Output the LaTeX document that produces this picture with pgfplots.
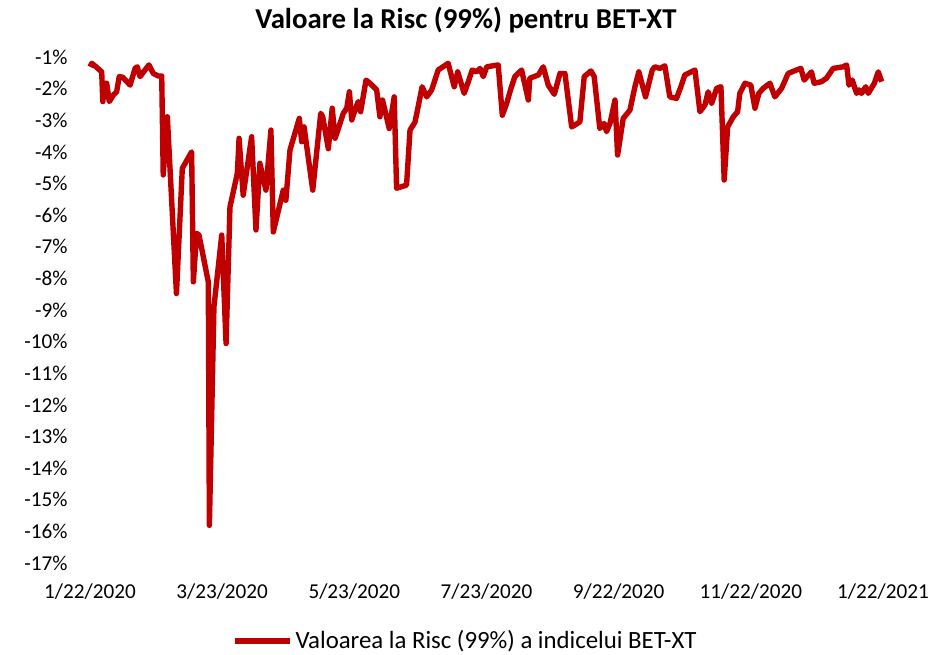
\documentclass[border=0pt]{standalone}
\usepackage{fontspec}
\setmainfont{Carlito}
\usepackage{pgfplots}
\pgfplotsset{compat=1.18}
\definecolor{varred}{HTML}{C00000}

% VaR (99%) of BET-XT, x = days since 1/22/2020, y = percent
\begin{document}
\begin{tikzpicture}[font=\fontsize{10.6}{12.7}\selectfont]
\begin{axis}[
  name=ax,
  scale only axis,
  width=396.5pt, height=253pt,
  xmin=0, xmax=366, ymin=-17, ymax=-1,
  clip=false,
  axis line style={draw=none},
  tick style={draw=none},
  xtick={0,61,122,183,244,305,366},
  xticklabels={1/22/2020,3/23/2020,5/23/2020,7/23/2020,9/22/2020,11/22/2020,1/22/2021},
  ytick={-17,-16,...,-1},
  yticklabels={-17\%,-16\%,-15\%,-14\%,-13\%,-12\%,-11\%,-10\%,-9\%,-8\%,-7\%,-6\%,-5\%,-4\%,-3\%,-2\%,-1\%},
  yticklabel style={anchor=east, inner sep=0pt, xshift=-11pt},
  xticklabel style={anchor=north, inner sep=0pt, yshift=-10pt},
  title={Valoare la Risc (99\%) pentru BET-XT},
  every axis title shift=0pt,
  title style={at={(0.474,1.073)}, anchor=center, inner sep=0pt,
    font=\fontsize{14.4}{17}\selectfont\bfseries},
  legend style={at={(0.474,-0.154)}, anchor=center, draw=none, fill=none,
    inner sep=0pt, nodes={inner sep=1.5pt},
    font=\fontsize{12.4}{14.5}\selectfont},
  legend image code/.code={\draw[#1] (0pt,0pt) -- (27.5pt,0pt);},
]
\addplot[varred, line width=2.7pt, line join=round, mark=none] coordinates {
(0,-1.31) (0.8,-1.20) (2.8,-1.31) (5.4,-1.47) (5.9,-2.41) (6.9,-1.83) (7.7,-1.83)
(8.9,-2.41) (10.8,-2.20) (12.3,-2.10) (13.5,-1.62) (15.1,-1.64) (18.5,-1.89)
(20.8,-1.36) (21.8,-1.31) (23.1,-1.62) (25.4,-1.41) (27.2,-1.25) (29.2,-1.52)
(31.5,-1.60) (33.1,-1.60) (33.8,-4.73) (35.7,-2.89) (39.9,-8.48) (42.6,-4.52)
(46.9,-4.00) (47.7,-8.11) (49.2,-6.58) (50.3,-6.63) (54.6,-8.11) (55.1,-15.81)
(57.2,-8.90) (60.8,-6.63) (62.8,-10.06) (64.6,-5.74) (68.0,-4.68) (68.8,-3.57)
(70.7,-5.37) (74.6,-3.52) (76.6,-6.47) (78.4,-4.36) (81.2,-5.21) (83.5,-3.31)
(84.6,-6.53) (89.2,-5.21) (90.4,-5.53) (92.3,-3.94) (96.6,-2.94) (97.7,-3.68)
(98.8,-3.21) (102.8,-5.21) (106.5,-2.78) (107.4,-2.89) (110.0,-3.90) (111.8,-2.62)
(113.1,-3.57) (115.4,-3.10) (116.9,-2.78) (118.5,-2.62) (119.7,-2.10) (120.8,-2.99)
(122.3,-2.68) (123.8,-2.41) (124.9,-2.73) (127.4,-1.73) (129.2,-1.83) (132.3,-2.04)
(133.8,-2.89) (135.0,-2.36) (138.1,-3.26) (140.4,-2.26) (141.5,-5.15) (146.1,-5.05)
(147.7,-3.31) (150.0,-3.06) (153.3,-1.94) (155.4,-2.26) (157.7,-2.04) (160.7,-1.41)
(165.3,-1.20) (168.1,-1.94) (169.7,-1.47) (172.7,-2.15) (174.6,-1.78) (176.4,-1.41)
(178.4,-1.47) (180.0,-1.36) (181.5,-1.62) (183.1,-1.31) (188.4,-1.25) (190.3,-2.84)
(192.3,-2.47) (194.3,-1.99) (196.1,-1.62) (199.2,-1.41) (202.3,-2.36) (203.0,-1.67)
(206.9,-1.57) (209.2,-1.31) (211.5,-1.89) (214.3,-2.18) (216.9,-1.52) (219.2,-1.52)
(222.3,-3.21) (223.8,-3.15) (226.1,-3.05) (228.1,-1.62) (231.2,-1.44) (232.7,-1.62)
(235.3,-3.26) (237.3,-3.10) (238.4,-3.36) (240.0,-3.10) (242.3,-2.36) (243.5,-4.10)
(246.1,-2.94) (249.2,-2.68) (251.5,-1.94) (253.3,-1.47) (256.4,-2.26) (259.5,-1.41)
(260.7,-1.31) (263.0,-1.36) (265.3,-1.28) (267.6,-2.26) (270.7,-2.31) (272.7,-1.94)
(274.5,-1.57) (279.2,-1.41) (281.5,-2.73) (283.8,-2.52) (285.3,-2.10) (286.9,-2.47)
(289.2,-1.99) (291.2,-1.94) (292.7,-4.89) (294.3,-3.21) (296.9,-2.89) (298.9,-2.73)
(299.9,-2.15) (302.3,-1.83) (305.0,-1.89) (306.9,-2.62) (308.7,-2.15) (310.7,-1.99)
(313.8,-1.83) (316.1,-2.26) (319.2,-1.99) (322.2,-1.52) (326.1,-1.41) (328.1,-1.36)
(329.6,-1.73) (333.0,-1.47) (334.2,-1.83) (337.6,-1.78) (339.9,-1.67) (343.0,-1.36)
(347.6,-1.31) (349.2,-1.25) (350.3,-1.89) (351.8,-1.73) (353.8,-2.15) (354.9,-2.04)
(356.1,-2.15) (358.0,-1.94) (359.2,-2.15) (362.0,-1.83) (363.8,-1.47) (365.4,-1.78)
};
\addlegendentry{Valoarea la Risc (99\%) a indicelui BET-XT}
\end{axis}
\path ([shift={(-45pt,281.5pt)}]ax.south west) ([shift={(420pt,-43.5pt)}]ax.south west);
\end{tikzpicture}
\end{document}
